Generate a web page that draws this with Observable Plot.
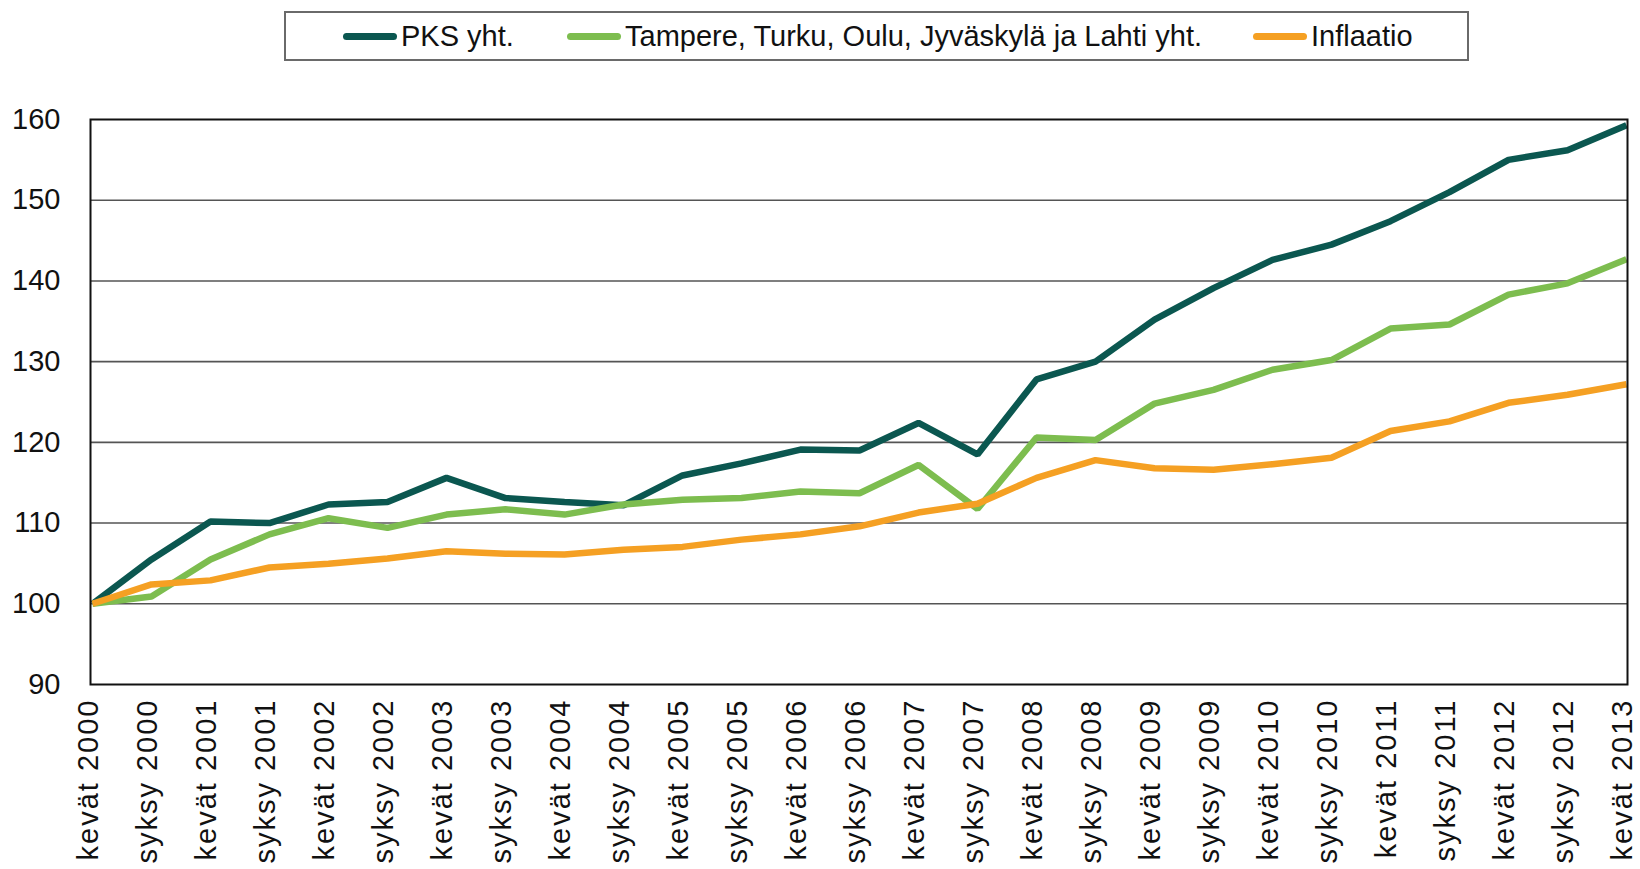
<!DOCTYPE html>
<html>
<head>
<meta charset="utf-8">
<script src="https://cdn.jsdelivr.net/npm/d3@7"></script>
<script src="https://cdn.jsdelivr.net/npm/@observablehq/plot@0.6"></script>
<style>
  html, body { margin: 0; padding: 0; background: #fff; }
  body { width: 1640px; height: 869px; position: relative; overflow: hidden; font-family: "Liberation Sans", Arial, sans-serif; }
  #legend { position: relative; height: 80px; }
  #legendBox { position: absolute; left: 284px; top: 11px; width: 1181px; height: 46px; border: 2px solid #6a6a6a; box-sizing: content-box; }
  .item { position: absolute; top: 0; height: 46px; display: flex; align-items: center; font-size: 29px; color: #111; white-space: nowrap; }
  .sw { width: 54px; height: 7px; border-radius: 4px; margin-right: 4px; }
  #chart svg g[aria-label="x-axis tick label"] text { letter-spacing: 2px; }
</style>
</head>
<body>
<div id="legend"><div id="legendBox"></div></div>
<div id="chart"></div>
<script>
const periods = [
  "kevät 2000","syksy 2000","kevät 2001","syksy 2001","kevät 2002","syksy 2002",
  "kevät 2003","syksy 2003","kevät 2004","syksy 2004","kevät 2005","syksy 2005",
  "kevät 2006","syksy 2006","kevät 2007","syksy 2007","kevät 2008","syksy 2008",
  "kevät 2009","syksy 2009","kevät 2010","syksy 2010","kevät 2011","syksy 2011",
  "kevät 2012","syksy 2012","kevät 2013"
];
const seriesNames = ["PKS yht.", "Tampere, Turku, Oulu, Jyväskylä ja Lahti yht.", "Inflaatio"];
const seriesColors = ["#0b5750", "#7dbd4f", "#f5a023"];
const pks = [100, 105.5, 110.2, 110.0, 112.3, 112.6, 115.6, 113.1, 112.6, 112.2,
  115.9, 117.4, 119.1, 119.0, 122.4, 118.5, 127.8, 130.0, 135.2, 139.1,
  142.6, 144.5, 147.4, 151.0, 155.0, 156.2, 159.3];
const kaupungit = [100, 100.9, 105.5, 108.6, 110.6, 109.4, 111.05, 111.7, 111.05, 112.3,
  112.9, 113.1, 113.9, 113.7, 117.2, 111.75, 120.6, 120.3, 124.8, 126.5,
  129.0, 130.2, 134.1, 134.6, 138.3, 139.7, 142.7];
const inflaatio = [100, 102.4, 102.9, 104.5, 104.95, 105.6, 106.5, 106.2, 106.1, 106.7,
  107.05, 107.95, 108.6, 109.6, 111.3, 112.4, 115.6, 117.8, 116.8, 116.6,
  117.3, 118.1, 121.4, 122.6, 124.9, 125.9, 127.2];
const yTicks = [90, 100, 110, 120, 130, 140, 150, 160];
const gridTicks = [100, 110, 120, 130, 140, 150];

const allValues = [pks, kaupungit, inflaatio];
const data = [];
allValues.forEach((vals, s) => vals.forEach((v, i) => data.push({period: periods[i], value: v, series: seriesNames[s]})));

// legend
const box = document.getElementById("legendBox");
const legendLefts = [57, 281, 967];
seriesNames.forEach((name, i) => {
  const it = document.createElement("div");
  it.className = "item";
  it.style.left = legendLefts[i] + "px";
  const sw = document.createElement("div");
  sw.className = "sw";
  sw.style.background = seriesColors[i];
  const tx = document.createElement("span");
  tx.textContent = name;
  it.appendChild(sw); it.appendChild(tx);
  box.appendChild(it);
});

const chart = Plot.plot({
  width: 1640,
  height: 789,
  marginTop: 39,
  marginBottom: 185,
  marginLeft: 90,
  marginRight: 13,
  style: { fontFamily: "'Liberation Sans', Arial, sans-serif", color: "#111", background: "#fff" },
  x: { type: "point", domain: periods, padding: 0 },
  y: { domain: [90, 160] },
  color: { domain: seriesNames, range: seriesColors },
  marks: [
    Plot.ruleY(gridTicks, { stroke: "#555", strokeWidth: 1.6 }),
    Plot.axisY({ ticks: yTicks, tickSize: 0, tickPadding: 30, fontSize: 29, label: null }),
    Plot.axisX({ tickSize: 0, tickPadding: 14, tickRotate: -90, fontSize: 29, label: null }),
    Plot.line(data, { x: "period", y: "value", z: "series", stroke: "series", strokeWidth: 6.5, strokeLinejoin: "miter", strokeLinecap: "butt" }),
    Plot.frame({ stroke: "#111", strokeWidth: 2 })
  ]
});
const xg = chart.querySelector('g[aria-label="x-axis tick label"]');
if (xg) {
  const t = xg.getAttribute("transform") || "";
  xg.setAttribute("transform", ("translate(-4,0) " + t).trim());
}
document.getElementById("chart").appendChild(chart);
</script>
</body>
</html>
